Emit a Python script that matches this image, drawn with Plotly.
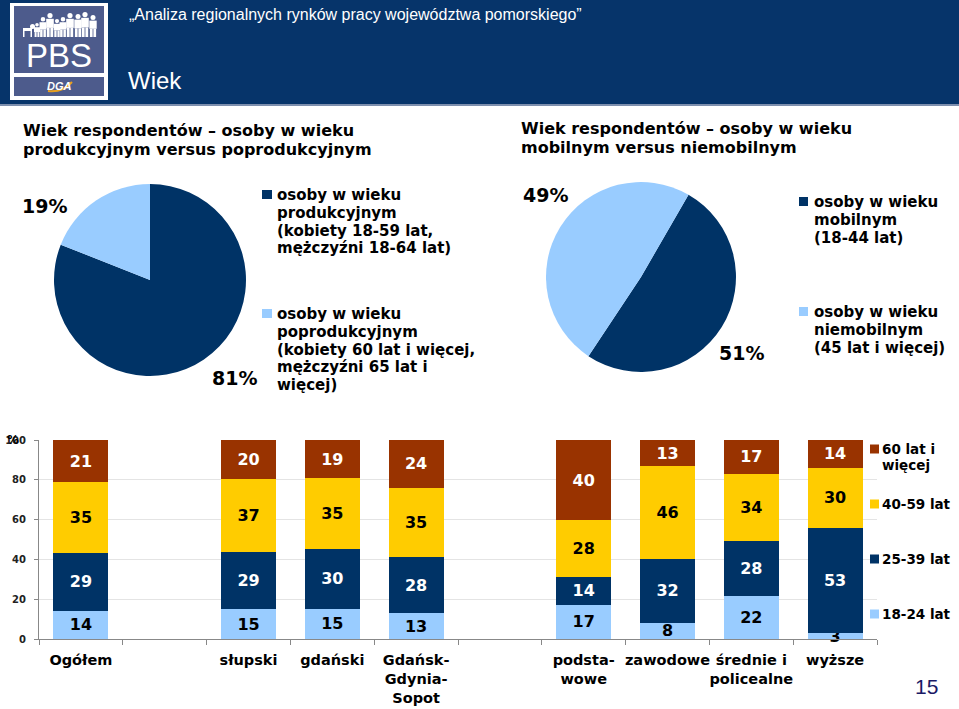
import plotly.graph_objects as go

W, H = 959, 709


def px(x):
    return x / W


def py(y):
    return 1 - y / H


# ---------------- data ----------------
header_title = "„Analiza regionalnych rynków pracy województwa pomorskiego”"
section_title = "Wiek"
page_number = "15"

pie1_title = ["Wiek respondentów – osoby w wieku", "produkcyjnym versus poprodukcyjnym"]
pie1_labels = [
    "osoby w wieku<br>produkcyjnym<br>(kobiety 18-59 lat,<br>mężczyźni 18-64 lat)",
    "osoby w wieku<br>poprodukcyjnym<br>(kobiety 60 lat i więcej,<br>mężczyźni 65 lat i<br>więcej)",
]
pie1_values = [81, 19]

pie2_title = ["Wiek respondentów – osoby w wieku", "mobilnym versus niemobilnym"]
pie2_labels = [
    "osoby w wieku<br>mobilnym<br>(18-44 lat)",
    "osoby w wieku<br>niemobilnym<br>(45 lat i więcej)",
]
pie2_values = [51, 49]

categories = ["Ogółem", " ", "słupski", "gdański", "Gdańsk-<br>Gdynia-<br>Sopot", "  ",
              "podsta-<br>wowe", "zawodowe", "średnie i<br>policealne", "wyższe"]
age_18_24 = [14, None, 15, 15, 13, None, 17, 8, 22, 3]
age_25_39 = [29, None, 29, 30, 28, None, 14, 32, 28, 53]
age_40_59 = [35, None, 37, 35, 35, None, 28, 46, 34, 30]
age_60_plus = [21, None, 20, 19, 24, None, 40, 13, 17, 14]
series_names = ["18-24 lat", "25-39 lat", "40-59 lat", "60 lat i<br>więcej"]
y_tick_values = [0, 20, 40, 60, 80, 100]

# ---------------- styles ----------------
NAVY = "#003366"
LIGHT = "#99CCFF"
YELLOW = "#FFCC00"
BROWN = "#993300"
HEADER_BG = "#06346a"
LOGO_BG = "#4d5b8c"
VERD = "DejaVu Sans"
ARIAL = "Liberation Sans"

series_vals = [age_18_24, age_25_39, age_40_59, age_60_plus]
series_colors = [LIGHT, NAVY, YELLOW, BROWN]
series_text_colors = ["#000000", "#ffffff", "#000000", "#ffffff"]

fig = go.Figure()

# ---------------- pies ----------------
fig.add_trace(go.Pie(
    values=pie1_values, labels=pie1_labels, sort=False, direction="clockwise", rotation=0,
    marker=dict(colors=[NAVY, LIGHT], line=dict(width=0)), textinfo="none", hoverinfo="skip",
    showlegend=False,
    domain=dict(x=[px(54), px(246)], y=[py(376), py(184)]),
))
fig.add_trace(go.Pie(
    values=pie2_values, labels=pie2_labels, sort=False, direction="clockwise", rotation=30,
    marker=dict(colors=[NAVY, LIGHT], line=dict(width=0)), textinfo="none", hoverinfo="skip",
    showlegend=False,
    domain=dict(x=[px(546), px(736)], y=[py(372), py(182)]),
))

# ---------------- stacked bars ----------------
for i, (name, vals, col, tcol) in enumerate(zip(series_names, series_vals, series_colors,
                                                 series_text_colors)):
    fig.add_trace(go.Bar(
        x=categories, y=vals, name=name, marker=dict(color=col, line=dict(width=0)),
        text=["" if v is None else str(v) for v in vals],
        textposition="inside", insidetextanchor="middle", textangle=0,
        cliponaxis=False,
        textfont=dict(family=VERD, size=16, color=tcol, weight="bold"),
        hoverinfo="skip", showlegend=False, xaxis="x", yaxis="y",
    ))

annotations = []
shapes = []


def ann(x, y, text, size, color="#000000", bold=False, family=VERD, xanchor="left",
        yanchor="middle", italic=False, align="left"):
    annotations.append(dict(
        x=px(x), y=py(y), xref="paper", yref="paper", text=text, showarrow=False,
        xanchor=xanchor, yanchor=yanchor, align=align,
        font=dict(family=family, size=size, color=color, weight="bold" if bold else "normal",
                  style="italic" if italic else "normal"),
    ))


def lines(x, y0, text_lines, size, spacing, color="#000000", bold=True, family=VERD):
    for i, t in enumerate(text_lines):
        ann(x, y0 + i * spacing, t, size, color, bold, family)


def rect(x0, y0, x1, y1, color, line_color=None, lw=0):
    shapes.append(dict(type="rect", xref="paper", yref="paper", x0=px(x0), x1=px(x1),
                       y0=py(y1), y1=py(y0), fillcolor=color,
                       line=dict(width=lw, color=line_color or color), layer="above"))


def circle(cx, cy, r, color):
    shapes.append(dict(type="circle", xref="paper", yref="paper", x0=px(cx - r), x1=px(cx + r),
                       y0=py(cy + r), y1=py(cy - r), fillcolor=color, line=dict(width=0),
                       layer="above"))


# header band
shapes.append(dict(type="rect", xref="paper", yref="paper", x0=0, x1=1, y0=py(104), y1=1,
                   fillcolor=HEADER_BG, line=dict(width=0), layer="below"))
shapes.append(dict(type="rect", xref="paper", yref="paper", x0=0, x1=1, y0=py(106), y1=py(104),
                   fillcolor="#7d8fae", line=dict(width=0), layer="below"))
# logo
rect(10, 3, 108, 100, "#ffffff")
rect(14, 6, 104, 73, LOGO_BG)
rect(14, 77, 104, 96, LOGO_BG)
# silhouettes (simple people figures)
people = [(43, 17, 2.3), (50, 13, 2.6), (57, 19, 2.1), (63, 17, 2.3), (70, 13, 2.6),
          (78, 14, 2.5), (85, 12, 2.6), (93, 15, 2.5), (37, 23, 1.8)]
for cx, top, r in people:
    circle(cx, top + r, r, "#ffffff")
    body_top = top + 2 * r + 0.6
    body_bot = body_top + (37 - body_top) * 0.5
    rect(cx - r - 1.2, body_top, cx + r + 1.2, body_bot, "#ffffff")
    rect(cx - r - 0.6, body_bot, cx - 0.4, 37, "#ffffff")
    rect(cx + 0.4, body_bot, cx + r + 0.6, 37, "#ffffff")
# dog
rect(23, 28, 32, 31, "#ffffff")
rect(23, 31, 24.5, 37, "#ffffff")
rect(30.5, 31, 32, 37, "#ffffff")
circle(32.5, 26.5, 2.5, "#ffffff")
ann(59, 56, "PBS", 33, "#ffffff", False, ARIAL, xanchor="center")
shapes.append(dict(type="path", xref="paper", yref="paper",
                   path=f"M {px(48)},{py(91)} Q {px(62)},{py(93)} {px(72)},{py(82)}",
                   line=dict(color="#e8a020", width=2), layer="above"))
ann(59, 86, "DGA", 11, "#ffffff", True, ARIAL, xanchor="center", italic=True)

ann(127, 15, header_title, 16, "#ffffff", False, ARIAL)
ann(126, 80, section_title, 24, "#ffffff", False, ARIAL)

# pie titles
lines(21, 131, pie1_title, 16, 18)
lines(519, 129, pie2_title, 16, 18)

# pie percentages
ann(44, 206, f"{pie1_values[1]}%", 19, bold=True, xanchor="center")
ann(234, 378, f"{pie1_values[0]}%", 19, bold=True, xanchor="center")
ann(545, 195, f"{pie2_values[1]}%", 19, bold=True, xanchor="center")
ann(741, 353, f"{pie2_values[0]}%", 19, bold=True, xanchor="center")

# pie legends
pie_cols = [NAVY, LIGHT]
for lab, y0, col in zip(pie1_labels, [195, 314], pie_cols):
    rect(262, y0 - 5, 272, y0 + 4, col)
    lines(275, y0, lab.split("<br>"), 15, 17.8)
for lab, y0, col in zip(pie2_labels, [202, 312], pie_cols):
    rect(799, y0 - 5, 808, y0 + 4, col)
    lines(812, y0, lab.split("<br>"), 15, 17.8)

# bar legend (top series first)
for i, (name, col) in enumerate(zip(series_names[::-1], series_colors[::-1])):
    y0 = 449 + i * 55
    rect(870, y0 - 4.5, 879, y0 + 4.5, col)
    lines(880, y0, name.split("<br>"), 13.5, 16)

# percent sign on y axis
ann(13, 440, "%", 12, "#000000", True, xanchor="center")

# page number
ann(926, 686, page_number, 21, "#1a1a66", False, ARIAL, xanchor="center")

fig.update_layout(
    width=W, height=H, margin=dict(l=0, r=0, t=0, b=0), autosize=False,
    paper_bgcolor="#ffffff", plot_bgcolor="#ffffff",
    barmode="stack", barnorm="percent", bargap=0.344,
    uniformtext=dict(minsize=16, mode="show"),
    showlegend=False,
    xaxis=dict(domain=[px(39), px(877)], type="category", categoryorder="array",
               categoryarray=categories, tickson="boundaries", ticks="outside", ticklen=5,
               tickcolor="#888888", showline=True, linecolor="#888888", linewidth=1,
               showgrid=False, fixedrange=True, ticklabelstandoff=8, tickangle=0,
               automargin=False,
               tickfont=dict(family=VERD, size=14.5, color="#000000", weight="bold")),
    yaxis=dict(domain=[py(639), py(440)], range=[0, 100.02], tickvals=y_tick_values,
               ticks="outside", ticklen=4, tickcolor="#888888", showline=True,
               linecolor="#888888", linewidth=1, showgrid=True, gridcolor="#e4e4e4",
               zeroline=False, fixedrange=True, ticklabelstandoff=6, automargin=False,
               tickfont=dict(family=VERD, size=10, color="#222222", weight="bold")),
    annotations=annotations, shapes=shapes,
)

fig.write_html(
    "out.html",
    config=dict(displayModeBar=False, responsive=False),
    post_script="document.body.style.margin='0';document.body.style.overflow='hidden';",
)
